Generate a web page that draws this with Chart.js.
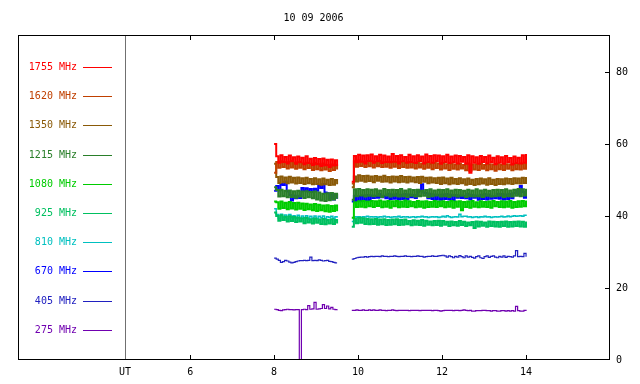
<!DOCTYPE html>
<html>
<head>
<meta charset="utf-8">
<script src="https://cdn.jsdelivr.net/npm/chart.js@4.4.1/dist/chart.umd.min.js"></script>
<style>
html,body{margin:0;padding:0;background:#fff;}
canvas{display:block;}
</style>
</head>
<body>
<canvas id="c" width="640" height="384"></canvas>
<script>
// ---- data ----
const title = '10 09 2006';
const xTickValues = [4.45, 6, 8, 10, 12, 14];
const xTickLabels = ['UT', '6', '8', '10', '12', '14'];
const yTickValues = [0, 20, 40, 60, 80];

const freqLabels = ['1755 MHz','1620 MHz','1350 MHz','1215 MHz','1080 MHz','925 MHz','810 MHz','670 MHz','405 MHz','275 MHz'];

const times1 = [8.00,8.05,8.10,8.15,8.20,8.25,8.30,8.35,8.40,8.45,
 8.50,8.55,8.60,8.65,8.70,8.75,8.80,8.85,8.90,8.95,
 9.00,9.05,9.10,9.15,9.20,9.25,9.30,9.35,9.40,9.45,
 9.50];
const times2 = [9.85,9.90,9.95,10.00,10.05,10.10,10.15,10.20,10.25,10.30,
 10.35,10.40,10.45,10.50,10.55,10.60,10.65,10.70,10.75,10.80,
 10.85,10.90,10.95,11.00,11.05,11.10,11.15,11.20,11.25,11.30,
 11.35,11.40,11.45,11.50,11.55,11.60,11.65,11.70,11.75,11.80,
 11.85,11.90,11.95,12.00,12.05,12.10,12.15,12.20,12.25,12.30,
 12.35,12.40,12.45,12.50,12.55,12.60,12.65,12.70,12.75,12.80,
 12.85,12.90,12.95,13.00,13.05,13.10,13.15,13.20,13.25,13.30,
 13.35,13.40,13.45,13.50,13.55,13.60,13.65,13.70,13.75,13.80,
 13.85,13.90,13.95,14.00];

const f1755a = [60.0,56.6,54.8,56.9,55.0,56.4,54.6,56.8,55.2,56.3,
 54.5,56.5,54.9,56.2,54.4,56.6,54.7,55.9,54.2,56.1,
 54.4,55.8,53.9,56.0,54.1,55.6,53.6,55.7,54.0,55.5,
 53.9];
const f1755b = [49.5,56.7,54.9,57.0,55.1,56.8,54.6,56.9,55.3,57.1,
 54.8,56.6,55.2,57.0,54.7,56.8,55.0,56.5,54.9,57.2,
 55.1,56.7,54.6,56.9,55.2,56.4,54.8,57.0,55.0,56.6,
 54.7,56.9,55.3,56.5,54.6,57.1,55.0,56.7,54.8,56.9,
 55.2,56.8,54.5,56.6,55.0,57.0,54.7,56.5,54.9,56.8,
 54.6,56.7,55.1,56.4,54.5,56.9,52.0,56.6,54.8,56.3,
 54.5,56.7,55.0,56.4,54.6,56.8,54.9,56.2,54.4,56.6,
 54.8,56.3,54.5,56.7,54.9,56.1,54.3,56.5,54.7,56.2,
 54.6,56.9,54.8,57.2];

const f1620a = [52.0,55.0,53.4,55.2,53.6,54.9,53.2,55.1,53.5,54.8,
 53.1,54.9,53.4,54.6,53.0,54.8,53.3,54.5,52.8,54.7,
 53.0,54.4,52.7,54.6,52.9,54.2,52.5,54.3,52.8,54.1,
 52.9];
const f1620b = [49.0,55.2,53.7,55.4,53.9,55.1,53.6,55.3,53.8,55.2,
 53.5,55.0,53.8,55.3,53.6,54.9,53.7,55.1,53.4,55.0,
 53.7,54.9,53.3,55.1,53.6,54.8,53.4,55.0,53.5,54.7,
 53.2,54.9,53.5,54.6,53.1,54.8,53.4,54.5,53.0,54.7,
 53.3,54.6,52.9,54.7,53.2,54.4,52.8,54.6,53.1,54.3,
 52.9,54.5,53.2,54.2,52.7,54.6,52.6,54.3,52.9,54.4,
 52.8,54.5,53.1,54.2,52.7,54.4,53.0,54.3,52.6,54.5,
 53.0,54.2,52.8,54.4,53.1,54.3,52.7,54.5,53.0,54.4,
 52.9,54.6,53.1,54.7];

const f1350a = [54.5,50.8,49.2,51.0,49.4,50.7,49.1,50.9,49.3,50.6,
 49.0,50.7,49.2,50.5,48.9,50.6,49.1,50.3,48.8,50.5,
 48.9,50.2,48.7,50.4,48.8,50.1,48.6,50.3,48.7,50.0,
 48.8];
const f1350b = [48.0,51.0,49.6,51.3,49.8,51.1,49.5,51.2,49.7,51.0,
 49.4,51.1,49.8,50.9,49.5,51.2,49.6,50.8,49.3,51.0,
 49.6,50.9,49.4,51.1,49.5,50.8,49.3,50.9,49.6,50.7,
 49.4,50.8,49.2,50.9,49.5,50.6,49.1,50.7,49.3,50.5,
 49.2,50.6,48.9,50.7,49.1,50.4,48.8,50.6,49.0,50.3,
 48.9,50.5,49.1,50.2,48.7,50.4,48.9,50.1,48.6,50.3,
 48.8,50.4,49.0,50.2,48.7,50.5,48.9,50.1,48.6,50.3,
 48.9,50.2,48.8,50.4,49.0,50.3,48.9,50.5,49.1,50.4,
 49.0,50.6,49.2,50.8];

const f1215a = [48.0,47.2,45.4,47.3,45.5,47.0,45.2,47.1,45.3,46.9,
 45.1,47.0,45.4,46.8,45.0,46.9,45.2,46.7,44.9,46.8,
 44.6,46.5,44.3,46.2,44.2,46.3,44.4,46.4,44.6,46.2,
 44.8];
const f1215b = [44.5,47.4,45.5,47.5,45.7,47.2,45.4,47.4,45.6,47.3,
 45.5,47.4,45.6,47.1,45.3,47.5,45.7,47.2,45.4,47.3,
 45.6,47.2,45.4,47.5,45.5,47.1,45.3,47.4,45.6,47.2,
 45.4,47.3,45.5,47.0,45.6,47.2,45.3,47.4,45.5,47.1,
 45.7,47.3,45.4,47.2,45.5,47.4,45.3,47.1,45.6,47.3,
 45.4,47.2,45.6,47.0,45.3,47.3,45.5,47.1,45.4,47.4,
 45.5,47.1,45.3,47.3,45.6,47.0,45.4,47.2,45.5,47.3,
 45.6,47.2,45.3,47.4,45.5,47.1,45.4,47.3,45.6,47.5,
 45.5,47.4,45.7,47.6];

const f1080a = [44.0,43.8,42.0,44.0,42.2,43.7,41.9,43.9,42.1,43.6,
 41.8,43.7,42.0,43.5,41.7,43.4,41.9,43.2,41.6,43.3,
 41.4,43.1,41.6,42.9,41.3,43.0,41.2,42.8,41.4,42.9,
 41.3];
const f1080b = [39.5,43.8,42.5,44.1,42.6,44.2,42.4,44.0,42.7,44.2,
 42.5,44.1,42.8,44.3,42.4,44.0,42.6,44.2,42.3,44.1,
 42.7,44.2,42.4,44.0,42.6,44.3,42.5,44.1,42.7,43.9,
 42.4,44.2,42.6,44.0,42.3,44.1,42.5,43.9,42.6,44.2,
 42.5,44.0,42.7,44.1,42.4,43.9,42.6,44.2,42.3,44.0,
 42.6,44.1,41.6,43.9,42.5,44.0,42.3,44.2,42.6,43.8,
 42.4,44.1,42.6,43.9,42.5,44.0,42.3,44.2,42.7,43.9,
 42.5,44.1,42.4,44.0,42.6,44.2,42.3,43.9,42.5,44.1,
 42.6,44.2,42.7,44.3];

const f925a = [41.0,40.0,38.7,40.2,38.9,39.8,38.5,39.9,38.6,39.7,
 38.3,39.6,38.5,39.4,38.0,39.5,38.2,39.1,37.9,39.3,
 38.1,39.0,37.8,39.2,37.7,38.9,37.9,39.1,37.8,38.9,
 37.9];
const f925b = [37.0,39.3,38.0,39.5,38.1,39.4,37.8,39.2,37.7,39.1,
 37.8,39.2,37.6,39.0,37.7,39.1,37.5,38.9,37.6,39.0,
 37.7,39.1,37.5,38.9,37.6,39.0,37.7,38.6,37.4,38.8,
 37.6,38.7,37.5,38.9,37.3,38.7,37.6,38.5,37.4,38.6,
 37.5,38.7,37.3,38.6,37.6,38.4,37.2,38.5,37.4,38.3,
 37.3,38.6,37.5,38.4,37.2,38.2,37.4,38.3,36.7,38.5,
 37.1,38.4,37.3,38.2,37.0,38.5,37.2,38.4,37.1,38.3,
 37.0,38.4,37.2,38.5,37.0,38.3,37.1,38.4,37.2,38.5,
 37.1,38.4,37.0,38.5];

const f810a = [42.0,40.4,39.3,40.5,39.5,40.3,39.2,40.4,39.6,40.1,
 39.4,40.2,39.3,40.0,39.5,40.1,39.2,39.9,39.4,40.0,
 39.3,39.9,39.5,40.0,39.3,39.8,39.6,39.9,39.4,39.8,
 39.5];
const f810b = [38.5,39.8,39.7,39.8,39.6,39.8,39.7,39.9,39.7,39.8,
 39.7,39.8,39.6,39.8,39.7,39.9,39.7,39.8,39.6,39.7,
 39.8,39.7,39.9,39.6,39.8,39.7,39.8,39.6,39.7,39.8,
 39.6,39.8,39.7,39.9,39.7,39.8,39.6,39.7,39.8,39.7,
 39.8,39.6,39.7,39.9,39.7,40.1,39.8,39.6,39.7,39.8,
 39.7,40.5,39.8,39.9,39.9,39.7,39.8,39.6,39.7,39.8,
 39.6,39.8,39.7,39.9,39.7,39.8,39.6,39.7,39.8,39.7,
 39.8,39.9,39.7,39.8,40.0,39.8,39.9,40.1,39.9,40.0,
 40.1,39.9,40.2,40.0];

const f670a = [47.0,48.3,47.1,48.9,48.6,49.6,46.8,45.8,44.3,45.7,
 44.9,45.6,45.0,47.8,47.0,47.7,46.8,47.5,46.7,47.6,
 47.0,48.5,47.8,48.9,46.5,46.3,44.8,46.1,44.6,45.9,
 44.8];
const f670b = [44.0,45.6,44.2,45.5,44.1,45.7,44.3,45.8,44.4,45.7,
 45.0,45.6,45.1,46.1,45.2,45.6,44.9,46.2,44.7,46.0,
 44.8,46.2,44.6,45.9,44.7,46.1,44.6,46.0,45.2,45.8,
 45.0,46.7,47.0,48.8,46.5,46.4,44.9,46.2,44.7,46.0,
 44.6,45.9,44.5,46.0,44.7,46.1,44.6,45.9,44.4,45.8,
 45.1,45.7,45.0,45.6,44.9,46.2,44.6,45.8,45.1,45.7,
 44.5,45.9,44.7,46.1,44.6,46.0,44.8,45.5,44.9,46.2,
 44.8,46.1,44.6,46.0,44.7,46.2,44.9,46.4,47.1,46.0,
 48.3,46.7,45.1,46.4];

const f405a = [28.3,28.0,27.7,27.1,27.3,27.7,27.5,27.2,27.0,27.1,
 27.3,27.5,27.6,27.6,27.7,27.6,27.7,28.6,27.6,27.7,
 27.6,27.8,27.7,27.5,27.6,27.7,27.4,27.3,27.1,27.0,
 27.0];
const f405b = [28.0,28.2,28.4,28.5,28.6,28.6,28.7,28.6,28.7,28.8,
 28.7,28.8,28.8,28.7,28.9,28.8,28.8,28.7,28.8,28.8,
 28.9,28.8,28.7,28.8,28.8,28.9,28.8,28.8,28.7,28.8,
 28.8,28.9,28.8,28.8,28.6,28.7,28.8,28.8,28.9,28.8,
 28.8,28.9,29.0,29.1,28.9,28.6,28.9,28.7,28.4,28.8,
 28.6,29.0,28.7,28.4,28.9,28.6,28.8,28.5,28.3,28.7,
 28.9,28.4,28.2,28.7,28.9,28.5,28.8,28.9,28.6,28.4,
 28.8,28.6,28.9,28.5,28.8,28.7,28.6,28.9,30.4,28.7,
 28.8,28.7,29.6,28.7];

const f275a = [14.1,14.0,13.8,13.7,13.9,14.0,14.1,14.0,14.0,13.9,
 14.0,14.0,0.0,14.0,14.1,14.0,15.1,14.1,14.2,16.0,
 14.1,14.2,14.3,15.4,14.3,15.0,14.2,14.6,14.1,14.0,
 14.1];
const f275b = [13.8,13.8,13.9,13.8,13.8,13.9,13.8,13.8,13.9,13.8,
 13.9,13.8,13.8,13.9,13.8,13.8,13.7,13.8,13.8,13.9,
 13.8,13.7,13.8,13.8,13.8,13.8,13.8,13.7,13.8,13.8,
 13.8,13.8,13.7,13.8,13.8,13.8,13.8,13.8,13.7,13.8,
 13.8,13.7,13.6,13.7,13.8,13.8,13.8,13.8,13.7,13.8,
 13.8,13.7,13.8,13.9,13.8,13.7,13.8,13.6,13.6,13.7,
 13.7,13.7,13.8,13.8,13.7,13.7,13.6,13.7,13.7,13.6,
 13.6,13.7,13.7,13.6,13.7,13.6,13.7,13.6,14.9,13.7,
 13.6,13.6,13.8,13.6];

const seriesA = [f1755a,f1620a,f1350a,f1215a,f1080a,f925a,f810a,f670a,f405a,f275a];
const seriesB = [f1755b,f1620b,f1350b,f1215b,f1080b,f925b,f810b,f670b,f405b,f275b];
const gapTime = 9.7;

// ---- styles ----
const colors = ['#ff0000','#c04000','#8a5a08','#2a7f2a','#00cc00','#00c060','#00c0c0','#0000ff','#2020c0','#7000b0'];
const widths = [2, 2, 2, 2, 2, 2, 1.5, 2, 1.2, 1.2];
const FONT = '"DejaVu Sans Mono", "Liberation Mono", monospace';

function buildData(a, b) {
  const d = times1.map((t, i) => ({x: t, y: a[i]}));
  d.push({x: gapTime, y: null});
  return d.concat(times2.map((t, i) => ({x: t, y: b[i]})));
}

const datasets = freqLabels.map((lab, k) => ({
  label: lab,
  data: buildData(seriesA[k], seriesB[k]),
  borderColor: colors[k],
  backgroundColor: colors[k],
  borderWidth: widths[k],
  pointRadius: 0,
  stepped: true,
  spanGaps: false,
  fill: false
}));

const decor = {
  id: 'decor',
  afterDraw(chart) {
    const ctx = chart.ctx;
    const a = chart.chartArea;
    const xs = chart.scales.x, ys = chart.scales.y;
    ctx.save();
    ctx.fillStyle = '#000';
    // frame
    const L = a.left, R = a.right - 1, T = a.top - 1, B = a.bottom - 1;
    ctx.fillRect(L, T, R - L + 1, 1);
    ctx.fillRect(L, B, R - L + 1, 1);
    ctx.fillRect(L, T, 1, B - T + 1);
    ctx.fillRect(R, T, 1, B - T + 1);
    // inward x ticks top & bottom
    xTickValues.slice(1).forEach(v => {
      const px = Math.round(xs.getPixelForValue(v));
      ctx.fillRect(px, B - 4, 1, 4);
      ctx.fillRect(px, T + 1, 1, 4);
    });
    // inward y ticks on right
    yTickValues.slice(1).forEach(v => {
      const py = Math.round(ys.getPixelForValue(v));
      ctx.fillRect(R - 4, py, 4, 1);
    });
    // title
    ctx.font = '10px ' + FONT;
    ctx.textAlign = 'center';
    ctx.textBaseline = 'middle';
    ctx.fillText(title, 313.5, 18.5);
    // legend
    ctx.textAlign = 'right';
    freqLabels.forEach((lab, k) => {
      const y = Math.round(67 + k * 29.2);
      ctx.fillStyle = colors[k];
      ctx.fillText(lab, 77, y + 0.5);
      ctx.fillRect(83, y, 29, 1);
    });
    ctx.restore();
  }
};

new Chart(document.getElementById('c'), {
  type: 'line',
  data: {datasets},
  options: {
    responsive: false,
    animation: false,
    events: [],
    layout: {padding: {left: 18, top: 36, right: 0, bottom: 0}},
    plugins: {legend: {display: false}, tooltip: {enabled: false}, title: {display: false}},
    scales: {
      x: {
        type: 'linear',
        position: 'bottom',
        min: 1.9,
        max: 16,
        afterBuildTicks: s => { s.ticks = xTickValues.map(v => ({value: v})); },
        afterFit: s => { s.height = 24; },
        ticks: {
          autoSkip: false,
          maxRotation: 0,
          padding: 6,
          color: '#000',
          font: {family: FONT, size: 10},
          callback: (v, i) => xTickLabels[i]
        },
        grid: {
          drawTicks: false,
          lineWidth: 1,
          color: c => (c.tick && c.tick.value === xTickValues[0]) ? '#707070' : 'rgba(0,0,0,0)'
        },
        border: {display: false}
      },
      y: {
        type: 'linear',
        position: 'right',
        min: 0,
        max: 90,
        afterBuildTicks: s => { s.ticks = yTickValues.map(v => ({value: v})); },
        afterFit: s => { s.width = 30; },
        ticks: {
          padding: 6,
          color: '#000',
          font: {family: FONT, size: 10}
        },
        grid: {display: false, drawTicks: false},
        border: {display: false}
      }
    }
  },
  plugins: [decor]
});
</script>
</body>
</html>
